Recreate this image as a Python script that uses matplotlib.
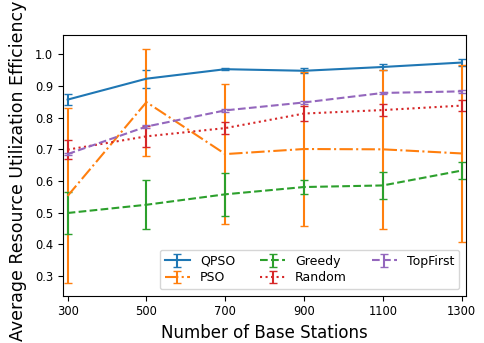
import numpy as np
import matplotlib
matplotlib.use("Agg")
import matplotlib.pyplot as plt

stations = [300, 500, 700, 900, 1100, 1300]

qpso = [0.857, 0.923, 0.953, 0.948, 0.960, 0.974]
qpso_err = [0.017, 0.028, 0.004, 0.008, 0.008, 0.012]

pso = [0.553, 0.849, 0.685, 0.701, 0.700, 0.687]
pso_err = [0.276, 0.169, 0.220, 0.243, 0.250, 0.280]

greedy = [0.499, 0.525, 0.558, 0.581, 0.586, 0.633]
greedy_err = [0.067, 0.077, 0.068, 0.021, 0.043, 0.027]

rand = [0.699, 0.741, 0.767, 0.813, 0.824, 0.838]
rand_err = [0.031, 0.034, 0.020, 0.025, 0.019, 0.017]

topfirst = [0.685, 0.772, 0.823, 0.848, 0.878, 0.883]
topfirst_err = [0.004, 0.004, 0.004, 0.004, 0.004, 0.004]

fig = plt.figure(figsize=(4.84, 3.43), dpi=100)
ax = fig.add_subplot(111)
fig.subplots_adjust(left=0.130, right=0.962, top=0.898, bottom=0.138)

ax.errorbar(stations, qpso, yerr=qpso_err, capsize=3, linestyle='-', label='QPSO', color='C0')
ax.errorbar(stations, pso, yerr=pso_err, capsize=3, linestyle='-.', label='PSO', color='C1')
ax.errorbar(stations, greedy, yerr=greedy_err, capsize=3, linestyle='--', label='Greedy', color='C2')
ax.errorbar(stations, rand, yerr=rand_err, capsize=3, linestyle=':', label='Random', color='C3')
ax.errorbar(stations, topfirst, yerr=topfirst_err, capsize=3, linestyle='--', label='TopFirst', color='C4')

ax.set_xticks(stations)
ax.set_xlim(288, 1310)
ax.set_ylim(0.238, 1.061)
ax.tick_params(labelsize=8.3)
ax.set_xlabel('Number of Base Stations', fontsize=12)
ax.set_ylabel('Average Resource Utilization Efficiency', fontsize=12.5)
ax.yaxis.set_label_coords(-0.088, 0.478)
ax.legend(ncol=3, loc='lower right', fontsize=9, labelspacing=0.3)

fig.savefig('out.png', dpi=100)
